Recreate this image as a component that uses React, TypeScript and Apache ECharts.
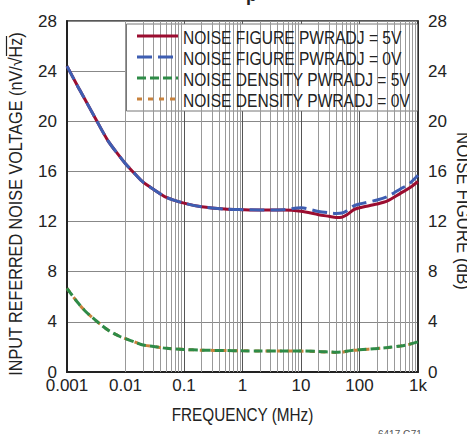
import React, { useEffect, useRef } from "react";
import * as echarts from "echarts";

const FONT = '"Liberation Sans", Arial, sans-serif';

const freq = [0.001, 0.0015, 0.002, 0.003, 0.005, 0.008, 0.01, 0.015, 0.02, 0.03, 0.05, 0.1, 0.2, 0.5, 1, 2, 5, 10, 20, 30, 40, 50, 60, 80, 100, 200, 300, 500, 700, 1000];
const nf5V = [24.4, 22.85, 21.8, 20.3, 18.46, 17.18, 16.62, 15.73, 15.14, 14.58, 13.93, 13.47, 13.18, 13.0, 12.95, 12.92, 12.92, 12.82, 12.55, 12.42, 12.33, 12.35, 12.52, 12.95, 13.1, 13.4, 13.65, 14.25, 14.65, 15.2];
const nf0V = [24.4, 22.85, 21.8, 20.3, 18.46, 17.18, 16.62, 15.73, 15.14, 14.58, 13.93, 13.47, 13.18, 13.0, 12.95, 12.93, 12.95, 13.1, 12.8, 12.7, 12.65, 12.68, 12.85, 13.25, 13.4, 13.72, 14.0, 14.6, 15.0, 15.7];
const nd5V = [6.68, 5.58, 4.91, 4.17, 3.35, 2.83, 2.66, 2.36, 2.15, 2.04, 1.89, 1.8, 1.74, 1.71, 1.69, 1.68, 1.68, 1.68, 1.64, 1.6, 1.57, 1.6, 1.66, 1.74, 1.78, 1.88, 1.95, 2.08, 2.2, 2.4];
const nd0V = [6.68, 5.58, 4.91, 4.17, 3.35, 2.83, 2.66, 2.36, 2.15, 2.04, 1.89, 1.8, 1.74, 1.71, 1.69, 1.68, 1.68, 1.67, 1.62, 1.58, 1.55, 1.58, 1.65, 1.73, 1.77, 1.87, 1.94, 2.07, 2.2, 2.4];

const decades = [0.001, 0.01, 0.1, 1, 10, 100, 1000];
const xTickLabels = ["0.001", "0.01", "0.1", "1", "10", "100", "1k"];
const minorMultipliers = [2, 3, 4, 5, 6, 7, 8, 9];

const seriesNames = [
  "NOISE FIGURE PWRADJ = 5V",
  "NOISE FIGURE PWRADJ = 0V",
  "NOISE DENSITY PWRADJ = 5V",
  "NOISE DENSITY PWRADJ = 0V",
];
const seriesColors = ["#9b0d30", "#3e5eb2", "#2e8b47", "#c9823c"];
const seriesDash: (number[] | null)[] = [null, [15, 6], [9, 4], [5, 6]];

export default function App() {
  const ref = useRef<HTMLDivElement>(null);
  useEffect(() => {
    if (!ref.current) return;
    const chart = echarts.init(ref.current, null, { renderer: "svg" });
    const pair = (vals: number[]) => freq.map((f, i) => [f, vals[i]]);
    const minorFreqs: number[] = [];
    decades.slice(0, -1).forEach((d) => minorMultipliers.forEach((m) => minorFreqs.push(+(d * m).toPrecision(3))));

    const lineSeries = (idx: number, vals: number[], z: number, yAxisIndex: number) => ({
      name: seriesNames[idx],
      type: "line",
      yAxisIndex,
      data: pair(vals),
      showSymbol: false,
      smooth: 0.3,
      z,
      color: seriesColors[idx],
      lineStyle: { color: seriesColors[idx], width: 3, type: seriesDash[idx] || "solid" },
    });

    const legendEls: any[] = [];
    seriesNames.forEach((name, i) => {
      const cy = 36 + i * 21;
      legendEls.push({
        type: "line",
        z: 10,
        shape: { x1: 137, y1: cy, x2: 178, y2: cy },
        style: { stroke: seriesColors[i], lineWidth: 3, lineDash: seriesDash[i] || undefined },
      });
      legendEls.push({
        type: "text",
        z: 10,
        x: 183,
        y: cy + 1,
        scaleX: 0.82,
        style: { text: name, font: `19px ${FONT}`, fill: "#222", align: "left", verticalAlign: "middle" },
      });
    });

    chart.setOption({
      animation: false,
      grid: { left: 67, right: 49, top: 21, bottom: 62, show: true, borderColor: "#222", borderWidth: 1.5, backgroundColor: "transparent" },
      xAxis: {
        type: "log",
        logBase: 10,
        min: 0.001,
        max: 1000,
        axisLine: { show: true, lineStyle: { color: "#222", width: 2 } },
        axisTick: { show: false },
        axisLabel: {
          fontFamily: FONT,
          fontSize: 17,
          color: "#222",
          margin: 5,
          formatter: (v: number) => {
            const i = decades.findIndex((d) => Math.abs(Math.log10(d) - Math.log10(v)) < 1e-6);
            return i >= 0 ? xTickLabels[i] : "";
          },
        },
        splitLine: { show: true, lineStyle: { color: "#555", width: 1 } },
      },
      yAxis: [
        {
          type: "value",
          min: 0,
          max: 28,
          interval: 4,
          position: "left",
          axisLine: { show: true, lineStyle: { color: "#222", width: 2 } },
          axisTick: { show: false },
          axisLabel: { fontFamily: FONT, fontSize: 17, color: "#222", margin: 10 },
          splitLine: { show: true, lineStyle: { color: "#888", width: 1 } },
        },
        {
          type: "value",
          min: 0,
          max: 28,
          interval: 4,
          position: "right",
          axisLine: { show: true, lineStyle: { color: "#222", width: 1.5 } },
          axisTick: { show: false },
          axisLabel: { fontFamily: FONT, fontSize: 17, color: "#222", margin: 10 },
          splitLine: { show: false },
        },
      ],
      series: [
        {
          name: "gridlines",
          type: "line",
          data: [],
          z: 1,
          silent: true,
          markLine: {
            silent: true,
            symbol: ["none", "none"],
            label: { show: false },
            lineStyle: { type: "solid", color: "#999", width: 1 },
            data: minorFreqs.map((v) => ({ xAxis: v })),
          },
        },
        lineSeries(0, nf5V, 5, 1),
        lineSeries(1, nf0V, 6, 1),
        lineSeries(3, nd0V, 5, 0),
        lineSeries(2, nd5V, 6, 0),
      ],
      graphic: [
        {
          type: "rect",
          z: 3,
          shape: { x: 126.5, y: 24, width: 291, height: 87 },
          style: { fill: "#fff", stroke: "#777", lineWidth: 1 },
        },
        ...legendEls,
        {
          type: "text",
          z: 10,
          x: 16,
          y: 204,
          rotation: Math.PI / 2,
          scaleX: 0.9,
          style: { text: "INPUT REFERRED NOISE VOLTAGE (nV/√Hz)", font: `18px ${FONT}`, fill: "#222", align: "center", verticalAlign: "middle" },
        },
        {
          type: "line",
          z: 10,
          shape: { x1: 6.5, y1: 36, x2: 6.5, y2: 56 },
          style: { stroke: "#222", lineWidth: 1.2 },
        },
        {
          type: "text",
          z: 10,
          x: 463,
          y: 211,
          rotation: -Math.PI / 2,
          scaleX: 0.94,
          style: { text: "NOISE FIGURE (dB)", font: `18px ${FONT}`, fill: "#222", align: "center", verticalAlign: "middle" },
        },
        {
          type: "text",
          z: 10,
          x: 242.5,
          y: 415,
          scaleX: 0.85,
          style: { text: "FREQUENCY (MHz)", font: `18px ${FONT}`, fill: "#222", align: "center", verticalAlign: "middle" },
        },
        {
          type: "text",
          z: 10,
          x: 246,
          y: 4,
          style: { text: "p", font: `bold 18px ${FONT}`, fill: "#222", align: "left", verticalAlign: "bottom" },
        },
        {
          type: "text",
          z: 10,
          x: 378,
          y: 429,
          style: { text: "6417 G71", font: `10px ${FONT}`, fill: "#555", align: "left", verticalAlign: "top" },
        },
      ],
    });
    return () => chart.dispose();
  }, []);
  return <div ref={ref} style={{ width: 467, height: 434, position: "absolute", left: 0, top: 0 }} />;
}
